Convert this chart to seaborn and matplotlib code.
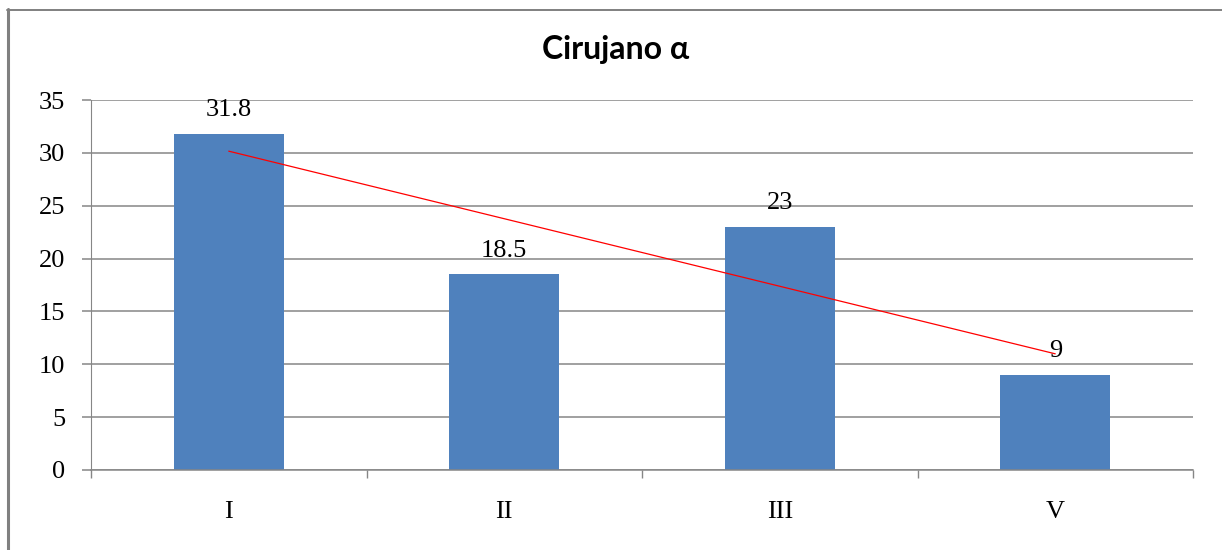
import numpy as np
import pandas as pd
import matplotlib
matplotlib.use("Agg")
import matplotlib.pyplot as plt
from matplotlib.lines import Line2D
import seaborn as sns

# Data
categories = ["I", "II", "III", "V"]
values = [31.8, 18.5, 23, 9]
y_ticks = [0, 5, 10, 15, 20, 25, 30, 35]
title = "Cirujano \u03b1"

sns.set_theme(style="white")
plt.rcParams["font.family"] = ["Liberation Serif", "DejaVu Serif"]
plt.rcParams["text.color"] = "black"
plt.rcParams["xtick.labelcolor"] = "black"
plt.rcParams["ytick.labelcolor"] = "black"

df = pd.DataFrame({"grupo": categories, "valor": values})

fig = plt.figure(figsize=(12.22, 5.5), dpi=100)
ax = fig.add_axes([91 / 1222, 80 / 550, 1102 / 1222, 370 / 550])

grid_color = "#868686"
ax.set_axisbelow(True)
ax.yaxis.grid(True, color=grid_color, linewidth=1.1)
ax.xaxis.grid(False)

sns.barplot(data=df, x="grupo", y="valor", color="#4F81BD", width=0.4,
            saturation=1, linewidth=0, ax=ax, zorder=2)

# Linear trend line across the categories
pos = np.arange(len(values))
slope, intercept = np.polyfit(pos, values, 1)
ax.plot(pos, slope * pos + intercept, color="#FF0000", linewidth=0.9, zorder=3)

# Value labels
for p, v in zip(pos, values):
    ax.annotate(f"{v:g}", xy=(p, v), xytext=(0, 9), textcoords="offset points",
                ha="center", va="bottom", fontsize=19, color="black", zorder=4)

ax.set_xlim(-0.5, len(values) - 0.5)
ax.set_ylim(0, 35)
ax.set_yticks(y_ticks)
ax.set_xlabel("")
ax.set_ylabel("")

for s in ["top", "right"]:
    ax.spines[s].set_visible(False)
ax.spines["left"].set_color(grid_color)
ax.spines["left"].set_linewidth(0.8)
ax.spines["bottom"].set_color(grid_color)
ax.spines["bottom"].set_linewidth(1.1)

ax.tick_params(axis="y", which="major", direction="out", length=6.5, width=1.1,
               color=grid_color, pad=12, labelsize=19, left=True, labelcolor="black")
ax.set_xticks(np.arange(-0.5, len(values)), minor=True)
ax.tick_params(axis="x", which="minor", direction="out", length=6, width=1,
               color=grid_color, bottom=True)
ax.tick_params(axis="x", which="major", length=0, pad=22, labelsize=19,
               labelcolor="black")

fig.text(616 / 1222, 1 - 50 / 550, title, ha="center", va="center", color="black",
         fontsize=23, fontweight="bold", family=["Lato", "DejaVu Sans"])

# Outer frame lines on the left and top
border = "#808080"
fig.add_artist(Line2D([8 / 1222, 8 / 1222], [0, 1 - 9 / 550], transform=fig.transFigure,
                      color=border, linewidth=2.2))
fig.add_artist(Line2D([7 / 1222, 1], [1 - 9.5 / 550, 1 - 9.5 / 550],
                      transform=fig.transFigure, color=border, linewidth=1.4))

fig.savefig("out.png", dpi=100, facecolor="white")
